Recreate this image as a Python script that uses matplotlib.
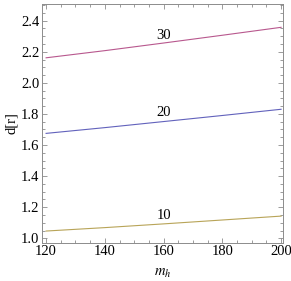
import matplotlib
matplotlib.use("Agg")
import matplotlib.pyplot as plt
from matplotlib.ticker import MultipleLocator

plt.rcParams['font.family'] = ['Liberation Serif', 'DejaVu Serif']
plt.rcParams['mathtext.fontset'] = 'stix'

# data
m_h = [120, 140, 160, 180, 200]
d_30 = [2.161, 2.207, 2.256, 2.306, 2.357]
d_20 = [1.675, 1.712, 1.751, 1.790, 1.830]
d_10 = [1.047, 1.069, 1.093, 1.118, 1.143]
curve_labels = ['30', '20', '10']
label_x = 160
label_y = [2.307, 1.808, 1.150]

colors = ['#b8588e', '#6262bc', '#b8a458']

fig = plt.figure(figsize=(2.91, 2.81), dpi=100)
ax = fig.add_axes([0.1443, 0.1363, 0.8297, 0.8495])

for ys, c in zip([d_30, d_20, d_10], colors):
    ax.plot(m_h, ys, color=c, lw=0.8)

for t, yy in zip(curve_labels, label_y):
    ax.text(label_x, yy, t, ha='center', va='center', fontsize=10.5)

ax.set_xlim(118.6, 200.8)
ax.set_ylim(0.972, 2.507)
ax.xaxis.set_major_locator(MultipleLocator(20))
ax.xaxis.set_minor_locator(MultipleLocator(5))
ax.yaxis.set_major_locator(MultipleLocator(0.2))
ax.yaxis.set_minor_locator(MultipleLocator(0.05))
ax.yaxis.set_major_formatter(plt.FuncFormatter(lambda v, p: f'{v:.1f}'))

for s in ax.spines.values():
    s.set_color('#8c8c8c')
    s.set_linewidth(0.7)
ax.tick_params(which='both', direction='in', top=True, right=True,
               color='#8c8c8c', labelsize=10.5, width=0.6, pad=2)
ax.tick_params(which='major', length=3.5)
ax.tick_params(which='minor', length=2)

ax.set_xlabel('$m_h$', fontsize=10.5, labelpad=6)
ax.set_ylabel('d[r]', fontsize=10.5, labelpad=2)

fig.savefig('out.png', dpi=100)
